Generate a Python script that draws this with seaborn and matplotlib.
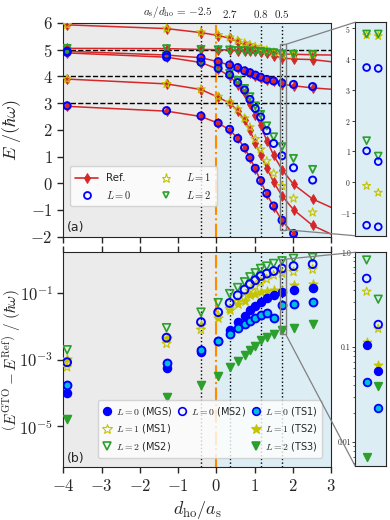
import numpy as np
import seaborn as sns
import matplotlib
matplotlib.use("Agg")
from matplotlib import pyplot as plt
from matplotlib.lines import Line2D
from matplotlib.patches import Rectangle, ConnectionPatch
from matplotlib.ticker import FixedLocator, FixedFormatter, NullLocator, LogLocator, NullFormatter

nan = np.nan

# d_ho/a_s of the GTO calculations
x_gto = [-3.9, -1.3, -0.4, 0.05, 0.35, 0.56, 0.74, 0.88, 1.02, 1.16, 1.32, 1.5, 1.72, 2.02, 2.52]
# reference curves go over the whole axis
x_ref = [-4.0] + x_gto + [3.0]

# (a) reference spectrum
ref_0a = [2.9, 2.88, 2.7, 2.5, 2.25, 2.0, 1.68, 1.33, 0.95, 0.55, 0.08, -0.4, -0.87, -1.4, -1.9, -2.6, -3.2]
ref_1a = [3.9, 3.9, 3.72, 3.51, 3.22, 3.0, 2.72, 2.36, 1.99, 1.5, 1.06, 0.58, 0.04, -0.47, -0.99, -1.58, -1.9]
ref_0b = [4.9, 4.88, 4.72, 4.52, 4.27, 4.01, 3.69, 3.37, 2.96, 2.57, 2.17, 1.6, 1.05, 0.51, -0.04, -0.59, -0.9]
ref_0c = [4.94, 4.94, 4.8, 4.7, 4.55, 4.42, 4.32, 4.2, 4.13, 4.03, 3.95, 3.86, 3.81, 3.71, 3.65, 3.57, 3.52]
ref_2a = [5.05, 5.05, 5.04, 5.01, 5.0, 4.99, 4.97, 4.96, 4.95, 4.94, 4.93, 4.91, 4.89, 4.84, 4.83, 4.81, 4.8]
ref_1b = [5.93, 5.93, 5.79, 5.64, 5.53, 5.43, 5.3, 5.19, 5.1, 5.02, 4.95, 4.87, 4.78, 4.69, 4.65, 4.63, 4.55]

# (a) GTO energies
e0_a = [2.9, 2.72, 2.52, 2.25, 2.02, 1.68, 1.33, 0.96, 0.56, 0.1, -0.38, -0.85, -1.38, -1.88, nan]
e0_b = [4.9, 4.72, 4.53, 4.3, 4.06, 3.77, 3.49, 3.14, 2.8, 2.48, 1.97, 1.49, 1.03, 0.58, 0.12]
e0_c = [4.94, 4.8, 4.7, 4.55, 4.43, 4.33, 4.21, 4.14, 4.05, 3.97, 3.89, 3.83, 3.75, 3.7, 3.62]
e1_a = [3.9, 3.72, 3.52, 3.24, 3.03, 2.77, 2.43, 2.1, 1.66, 1.27, 0.83, 0.37, -0.1, -0.57, -1.09]
e1_b = [5.93, 5.79, 5.65, 5.55, 5.46, 5.34, 5.24, 5.18, 5.11, 5.05, 4.98, 4.9, 4.8, 4.82, 4.82]
e2_a = [5.05, 5.04, 5.01, 5.0, 4.99, 4.97, 4.96, 4.95, 4.94, 4.93, 4.91, 4.89, 4.84, 4.83, 4.82]
e2_b = [4.93, 4.76, 4.5, 4.3, 4.12, 3.85, 3.55, 3.24, 2.9, 2.58, 2.15, 1.74, 1.37, 0.93, 0.52]

# (b) errors E^GTO - E^Ref
err_mgs = [1.0e-4, 5.5e-4, 1.66e-3, 3.5e-3, 7.4e-3, 0.0132, 0.0195, 0.0295, 0.039, 0.0525, 0.071, 0.087, 0.105, 0.117, 0.141]
err_ms2_0 = [8.3e-4, 4.5e-3, 0.0132, 0.026, 0.049, 0.083, 0.123, 0.178, 0.234, 0.31, 0.37, 0.44, 0.525, 0.62, 0.71]
err_ts1 = [1.7e-4, 7.9e-4, 1.95e-3, 3.7e-3, 5.9e-3, 8.7e-3, 0.0117, 0.0141, 0.0178, 0.0209, 0.0245, 0.0178, 0.0437, 0.0468, 0.0525]
err_ms1 = [5.9e-4, 2.95e-3, 7.8e-3, 0.0209, 0.0331, 0.0525, 0.0708, 0.112, 0.155, 0.209, 0.251, 0.331, 0.372, 0.417, 0.49]
err_ts2 = [1.05e-3, 4.5e-3, 0.0105, 0.0174, 0.0295, 0.0447, 0.055, 0.083, 0.093, 0.105, 0.112, 0.117, 0.11, 0.166, 0.186]
err_ms2_2 = [1.95e-3, 8.9e-3, 0.026, 0.05, 0.093, 0.141, 0.209, 0.295, 0.389, 0.525, 0.617, 0.741, 0.89, 1.05, 1.12]
err_ts3 = [1.7e-5, 7.4e-5, 1.78e-4, 3.3e-4, 5.9e-4, 8.9e-4, 1.32e-3, 1.86e-3, 2.45e-3, 3.9e-3, 4.7e-3, 5.6e-3, 7.4e-3, 8.9e-3, 0.0112]

# zoomed insets
x_in = [1.72, 1.78]
in_e0_a = [-1.4, -1.45]
in_e0_b = [1.02, 0.67]
in_e0_c = [3.73, 3.7]
in_e1_a = [-0.12, -0.34]
in_e1_b = [4.78, 4.75]
in_e2_a = [4.82, 4.82]
in_e2_b = [1.35, 0.85]
in_mgs = [0.104, 0.056]
in_ms2_0 = [0.53, 0.173]
in_ts1 = [0.043, 0.0226]
in_ms1 = [0.385, 0.156]
in_ts2 = [0.113, 0.064]
in_ms2_2 = [0.83, 0.32]
in_ts3 = [0.007, 0.039]

# a_s/d_ho marks on the top axis
x_marks = [-0.4, 0.37, 1.16, 1.72]
mark_labels = ["$a_{\\rm s}/d_{\\rm ho}\\,=\\,{-}2.5$", "$2.7$", "$0.8$", "$0.5$"]

RED = "#d62728"
BLUE = "#0000ff"
YEL = "#c4c400"
GREEN = "#2ca02c"
CYAN = "#00c0d8"
GREY_BG = "#ebebeb"
BLUE_BG = "#dcedf4"

sns.set_style("ticks")
plt.rcParams["font.family"] = "serif"
plt.rcParams["font.serif"] = ["cmr10"]
plt.rcParams["mathtext.fontset"] = "cm"
plt.rcParams["axes.formatter.use_mathtext"] = True


def pts(ax, x, y, marker, edge, face="none", s=22, lw=1.2, z=4):
    sns.scatterplot(x=x, y=y, ax=ax, marker=marker, s=s, color=edge,
                    facecolor=face, edgecolor=edge, linewidth=lw,
                    zorder=z, legend=False)


fig = plt.figure(figsize=(3.9, 5.2), dpi=100)
ax1 = fig.add_axes([0.1623, 0.5448, 0.6864, 0.411])
ax2 = fig.add_axes([0.1623, 0.1013, 0.6864, 0.4135])
in1 = fig.add_axes([0.9103, 0.5467, 0.0794, 0.4104])
in2 = fig.add_axes([0.9103, 0.1044, 0.0794, 0.4104])

for ax in (ax1, ax2):
    ax.set_facecolor(GREY_BG)
    ax.axvspan(0, 3, color=BLUE_BG, zorder=0, lw=0)
    for xm in x_marks:
        ax.axvline(xm, color="k", ls=":", lw=1, zorder=1)
    ax.axvline(0, color="darkorange", ls="-.", lw=1.5, zorder=1)
    ax.set_xlim(-4, 3)
    ax.tick_params(direction="out", length=4, width=1, labelsize=12)
for ax in (in1, in2):
    ax.set_facecolor(BLUE_BG)
    ax.set_xlim(1.66, 1.82)
    ax.xaxis.set_major_locator(NullLocator())
    ax.tick_params(axis="y", direction="out", length=2, width=0.6, labelsize=5.5, pad=1)
    ax.tick_params(axis="y", which="minor", direction="out", length=1.2, width=0.5)

# ---- (a) spectrum
for y in (3, 4, 5):
    ax1.axhline(y, color="k", ls="--", lw=1, zorder=1)
for r in (ref_0a, ref_1a, ref_0b, ref_0c, ref_2a, ref_1b):
    sns.lineplot(x=x_ref, y=r, ax=ax1, color=RED, lw=1.1, marker="d", markersize=5,
                 markeredgecolor=RED, markeredgewidth=0.6, markevery=list(range(1, 16)),
                 legend=False, zorder=2)
for e in (e1_a, e1_b):
    pts(ax1, x_gto, e, "*", YEL, s=42, lw=0.8)
for e in (e2_a, e2_b):
    pts(ax1, x_gto, e, "v", GREEN, s=26, lw=1.3)
for e in (e0_a, e0_b, e0_c):
    pts(ax1, x_gto, e, "o", BLUE, s=26, lw=1.4)
ax1.set_ylim(-2, 6)
ax1.set_yticks(range(-2, 7))
ax1.set_xticks(range(-4, 4))
ax1.tick_params(labelbottom=False)
ax1.set_ylabel("$E\\ /(\\hbar\\omega)$", fontsize=13)
ax1.yaxis.set_label_coords(-0.15, 0.5)
for xm, lab in zip(x_marks, mark_labels):
    first = xm == x_marks[0]
    ax1.text(xm + (0.3 if first else 0), 1.012, lab,
             transform=ax1.get_xaxis_transform(), fontsize=8,
             ha="right" if first else "center", va="bottom")
ax1.text(0.012, 0.025, "(a)", transform=ax1.transAxes, family="DejaVu Sans", fontsize=9)

h_ref = Line2D([], [], color=RED, lw=1.2, marker="d", ms=5, mec=RED, mew=0.6)
h_l0 = Line2D([], [], ls="", marker="o", mfc="none", mec=BLUE, mew=1.3, ms=5)
h_l1 = Line2D([], [], ls="", marker="*", mfc="none", mec=YEL, mew=0.8, ms=6.5)
h_l2 = Line2D([], [], ls="", marker="v", mfc="none", mec=GREEN, mew=1.2, ms=5)
ax1.legend([h_ref, h_l0, h_l1, h_l2], ["Ref.", "$L=0$", "$L=1$", "$L=2$"], ncol=2,
           loc="lower left", bbox_to_anchor=(0.005, 0.12), prop={"family": "DejaVu Sans", "size": 7.5},
           handlelength=2.2, columnspacing=2.2, borderpad=0.5, framealpha=0.8)

# ---- (b) errors
pts(ax2, x_gto, err_ms1, "*", YEL, s=46, lw=0.8)
pts(ax2, x_gto, err_ts2, "*", YEL, face=YEL, s=46, lw=0.8)
pts(ax2, x_gto, err_ms2_2, "v", GREEN, s=32, lw=1.2)
pts(ax2, x_gto, err_ts3, "v", GREEN, face=GREEN, s=32, lw=1.2)
pts(ax2, x_gto, err_mgs, "o", BLUE, face=BLUE, s=32, lw=1.2)
pts(ax2, x_gto, err_ms2_0, "o", BLUE, s=32, lw=1.4)
pts(ax2, x_gto, err_ts1, "o", BLUE, face=CYAN, s=32, lw=1.4)
ax2.set_yscale("log")
ax2.set_ylim(6e-7, 1.6)
ax2.yaxis.set_major_locator(FixedLocator([1e-5, 1e-3, 1e-1]))
ax2.yaxis.set_minor_locator(NullLocator())
ax2.set_xticks(range(-4, 4))
ax2.tick_params(top=True)
ax2.set_xlabel("$d_{\\rm ho}/a_{\\rm s}$", fontsize=13)
ax2.set_ylabel("$\\left(E^{\\rm GTO}-E^{\\rm Ref}\\right)\\ /\\ (\\hbar\\omega)$", fontsize=11)
ax2.yaxis.set_label_coords(-0.155, 0.5)
ax2.text(0.012, 0.025, "(b)", transform=ax2.transAxes, family="DejaVu Sans", fontsize=9)


def mk(marker, face, edge, ms=5.5, mew=1.2):
    return Line2D([], [], ls="", marker=marker, mfc=face, mec=edge, ms=ms, mew=mew)


blank = Line2D([], [], ls="", marker="")
handles = [mk("o", BLUE, BLUE), mk("*", "none", YEL, 7, 0.8), mk("v", "none", GREEN),
           mk("o", "none", BLUE), blank, blank,
           mk("o", CYAN, BLUE), mk("*", YEL, YEL, 7, 0.8), mk("v", GREEN, GREEN)]
labels = ["$L=0$ (MGS)", "$L=1$ (MS1)", "$L=2$ (MS2)", "$L=0$ (MS2)", "", "",
          "$L=0$ (TS1)", "$L=1$ (TS2)", "$L=2$ (TS3)"]
ax2.legend(handles, labels, ncol=3, loc="lower right", bbox_to_anchor=(0.985, 0.02),
           prop={"family": "DejaVu Sans", "size": 7}, handlelength=1.0, handletextpad=0.4,
           columnspacing=0.5, borderpad=0.5, framealpha=0.8)

# ---- insets
for e in (in_e1_a, in_e1_b):
    pts(in1, x_in, e, "*", YEL, s=36, lw=0.8)
for e in (in_e2_a, in_e2_b):
    pts(in1, x_in, e, "v", GREEN, s=26, lw=1.2)
for e in (in_e0_a, in_e0_b, in_e0_c):
    pts(in1, x_in, e, "o", BLUE, s=24, lw=1.3)
in1.set_ylim(-1.74, 5.2)
in1.set_yticks(range(-1, 6))

pts(in2, x_in, in_ms1, "*", YEL, s=42, lw=0.8)
pts(in2, x_in, in_ts2, "*", YEL, face=YEL, s=42, lw=0.8)
pts(in2, x_in, in_ms2_2, "v", GREEN, s=30, lw=1.2)
pts(in2, x_in, in_ts3, "v", GREEN, face=GREEN, s=30, lw=1.2)
pts(in2, x_in, in_mgs, "o", BLUE, face=BLUE, s=30, lw=1.2)
pts(in2, x_in, in_ms2_0, "o", BLUE, s=30, lw=1.3)
pts(in2, x_in, in_ts1, "o", BLUE, face=CYAN, s=30, lw=1.3)
in2.set_yscale("log")
in2.set_ylim(0.0056, 1.0)
in2.yaxis.set_major_locator(FixedLocator([0.01, 0.1, 1.0]))
in2.yaxis.set_major_formatter(FixedFormatter(["0.01", "0.1", "1.0"]))
in2.yaxis.set_minor_locator(LogLocator(base=10, subs=np.arange(2, 10)))
in2.yaxis.set_minor_formatter(NullFormatter())

for ax, ins in ((ax1, in1), (ax2, in2)):
    x0, x1 = ins.get_xlim()
    y0, y1 = ins.get_ylim()
    ax.add_patch(Rectangle((x0, y0), x1 - x0, y1 - y0, fill=False, ec="grey", lw=1, zorder=5))
    for yy, ya in ((y1, 1), (y0, 0)):
        fig.add_artist(ConnectionPatch(xyA=(x1, yy), coordsA=ax.transData,
                                       xyB=(0, ya), coordsB=ins.transAxes,
                                       color="grey", lw=0.9))

fig.savefig("out.png", dpi=100)
